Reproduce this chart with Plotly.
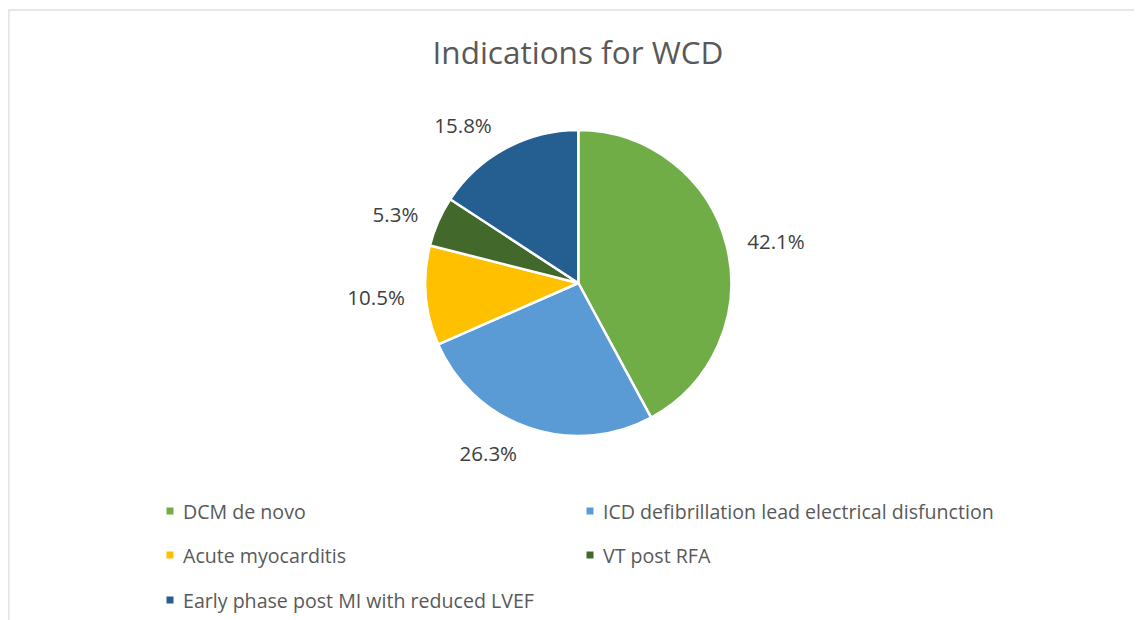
import plotly.graph_objects as go

# Data
labels = ["DCM de novo", "ICD defibrillation lead electrical disfunction",
          "Acute myocarditis", "VT post RFA",
          "Early phase post MI with reduced LVEF"]
counts = [8, 5, 2, 1, 3]
colors = ["#70AD47", "#5B9BD5", "#FFC000", "#43682B", "#255E91"]

W, H = 1142, 620
OFF = 8  # page body margin
FONT = "'Open Sans', Lato, sans-serif"

def px(x):
    return (x - OFF) / W

def py(y):
    return 1 - (y - OFF) / H

cx, cy, r = 578.3, 283, 153
r_lab = 167  # radius used only for placing the outside percentage labels

common = dict(labels=labels, values=counts, sort=False, direction="clockwise",
              rotation=0, showlegend=False)

fig = go.Figure()
# invisible, slightly larger pie carrying the outside labels
fig.add_trace(go.Pie(
    **common,
    marker=dict(colors=["rgba(0,0,0,0)"] * len(labels), line=dict(width=0)),
    textposition="outside",
    texttemplate="%{percent:.1%}",
    textfont=dict(family=FONT, size=20.5, color="#404040"),
    domain=dict(x=[px(cx - r_lab), px(cx + r_lab)], y=[py(cy + r_lab), py(cy - r_lab)]),
    hoverinfo="skip",
))
# visible pie
fig.add_trace(go.Pie(
    **common,
    marker=dict(colors=colors, line=dict(color="white", width=2.5)),
    textinfo="none",
    domain=dict(x=[px(cx - r), px(cx + r)], y=[py(cy + r), py(cy - r)]),
    hoverinfo="label+percent",
))

# Manual two-column legend (Excel style)
legend_pos = [(170, 511), (590, 511), (170, 555), (590, 555), (170, 600)]
shapes = []
annotations = []
for (lx, ly), lab, col in zip(legend_pos, labels, colors):
    s = 3.5
    shapes.append(dict(type="rect", xref="paper", yref="paper",
                       x0=px(lx - s), x1=px(lx + s), y0=py(ly + s), y1=py(ly - s),
                       fillcolor=col, line=dict(width=0)))
    annotations.append(dict(x=px(lx + 11), y=py(ly), xref="paper", yref="paper",
                            text=lab, showarrow=False, xanchor="left", yanchor="middle",
                            font=dict(family=FONT, size=19.6, color="#595959")))

# Faint frame lines
shapes.append(dict(type="line", xref="paper", yref="paper",
                   x0=px(3), x1=1, y0=py(10), y1=py(10),
                   line=dict(color="#E6E6E6", width=2)))
shapes.append(dict(type="line", xref="paper", yref="paper",
                   x0=px(8.7), x1=px(8.7), y0=py(10), y1=0,
                   line=dict(color="#E6E6E6", width=2)))

fig.update_layout(
    width=W, height=H,
    margin=dict(l=0, r=0, t=0, b=0),
    paper_bgcolor="white",
    plot_bgcolor="white",
    title=dict(text="Indications for WCD", x=px(578), xanchor="center",
               y=py(53), yanchor="middle",
               font=dict(family=FONT, size=31.5, color="#595959")),
    shapes=shapes,
    annotations=annotations,
)

fig.write_html("out.html")
